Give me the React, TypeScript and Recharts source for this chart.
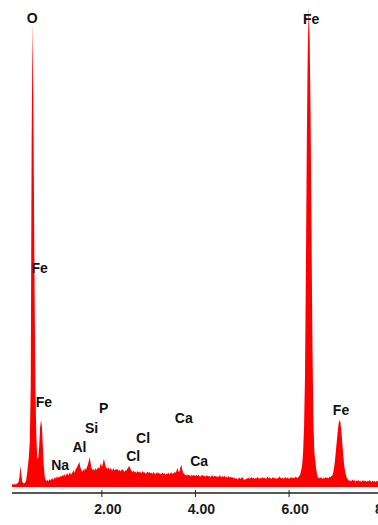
import React from 'react';
import { AreaChart, Area, XAxis, YAxis, ReferenceDot } from 'recharts';

// EDS spectrum: counts per 0.02 keV channel
const CHANNEL_WIDTH = 0.02;

// 0.08 keV .. 0.80 keV (C, O Kα, Fe L)
const startLow = 0.08;
const countsLow = [
  5, 6, 4, 7, 5, 6, 8, 10, 20, 42,
  24, 10, 8, 7, 9, 12, 26, 42, 60, 90,
  200, 700, 930, 720, 430, 200, 100, 56, 58, 80,
  118, 134, 120, 80, 40, 20, 14,
];

// 0.82 .. 1.36 keV (Na)
const startNa = 0.82;
const countsNa = [
  12, 14, 11, 16, 13, 15, 18, 14, 17, 20,
  16, 22, 18, 21, 19, 23, 20, 24, 22, 26,
  21, 25, 28, 23, 26, 30, 24, 28,
];

// 1.38 .. 2.08 keV (Al, Si, P)
const startAlSiP = 1.38;
const countsAlSiP = [
  30, 34, 28, 36, 38, 42, 46, 50, 40, 34,
  30, 36, 32, 38, 34, 40, 44, 52, 60, 48,
  38, 34, 36, 32, 38, 34, 36, 40, 36, 42,
  48, 40, 46, 56, 50, 40,
];

// 2.10 .. 2.78 keV (Cl)
const startCl = 2.1;
const countsCl = [
  38, 36, 40, 34, 38, 36, 32, 38, 35, 33,
  37, 34, 36, 32, 35, 31, 34, 36, 33, 30,
  34, 32, 36, 38, 42, 40, 34, 32, 30, 33,
  29, 31, 28, 32, 30,
];

// 2.80 .. 3.78 keV (Ca)
const startCa = 2.8;
const countsCa = [
  29, 31, 27, 30, 32, 28, 30, 26, 29, 31,
  28, 30, 27, 29, 26, 30, 28, 25, 29, 27,
  30, 26, 28, 25, 27, 29, 26, 28, 24, 27,
  26, 29, 25, 27, 30, 26, 28, 27, 31, 28,
  34, 38, 30, 32, 40, 44, 34, 28, 26, 24,
];

// 3.80 .. 5.02 keV
const startMid = 3.8;
const countsMid = [
  25, 22, 26, 23, 24, 21, 25, 22, 24, 23,
  22, 25, 21, 24, 23, 20, 24, 22, 25, 21,
  23, 20, 24, 22, 21, 23, 19, 22, 24, 20,
  22, 21, 23, 19, 22, 20, 24, 21, 19, 22,
  20, 23, 19, 21, 18, 22, 20, 19, 21, 18,
  20, 17, 19, 16, 18, 15, 17, 19, 16, 18, 20, 17,
];

// 5.04 .. 6.22 keV
const startHigh = 5.04;
const countsHigh = [
  14, 16, 15, 18, 17, 19, 16, 18, 20, 17,
  19, 16, 18, 17, 20, 18, 16, 19, 17, 18,
  20, 17, 19, 16, 18, 21, 17, 19, 18, 16,
  18, 20, 17, 19, 16, 18, 17, 19, 21, 18,
  17, 19, 16, 18, 20, 17, 19, 18, 16, 19,
  18, 20, 17, 19, 18, 21, 19, 18, 20, 22,
];

// 6.24 .. 6.62 keV (Fe Kα)
const startFeKa = 6.24;
const countsFeKa = [
  26, 34, 44, 70, 120, 220, 440, 700, 880, 960,
  890, 744, 500, 280, 130, 70, 52, 36, 24, 18,
];

// 6.64 .. 7.24 keV (Fe Kβ)
const startFeKb = 6.64;
const countsFeKb = [
  19, 17, 20, 18, 16, 19, 17, 20, 18, 19, 17, 21, 19, 22,
  22, 28, 38, 52, 72, 92, 112, 128, 134, 128, 108, 84, 60, 42, 30, 22, 17,
];

// 7.26 .. 8.40 keV
const startTail = 7.26;
const countsTail = [
  15, 12, 14, 11, 13, 15, 12, 14, 10, 13,
  12, 14, 11, 13, 10, 12, 14, 11, 13, 12,
  10, 13, 11, 14, 12, 10, 13, 11, 12, 10,
  12, 11, 13, 10, 12, 9, 11, 13, 10, 12,
  11, 9, 12, 10, 11, 13, 10, 12, 9, 11,
  10, 12, 9, 11, 10, 12, 9, 10,
];

// peak labels
const peakLabels = ['O', 'Fe', 'Fe', 'Fe', 'Na', 'Al', 'Si', 'P', 'Cl', 'Cl', 'Ca', 'Ca', 'Fe'];
const labelEnergies = [0.51, 6.47, 0.67, 0.76, 1.11, 1.52, 1.78, 2.04, 2.88, 2.67, 3.75, 4.08, 7.11];
const labelLevels = [928, 926, 428, 160, 34, 71, 108, 148, 88, 52, 128, 42, 144];

const xTicks = [2, 4, 6, 8];

const segments: [number, number[]][] = [
  [startLow, countsLow],
  [startNa, countsNa],
  [startAlSiP, countsAlSiP],
  [startCl, countsCl],
  [startCa, countsCa],
  [startMid, countsMid],
  [startHigh, countsHigh],
  [startFeKa, countsFeKa],
  [startFeKb, countsFeKb],
  [startTail, countsTail],
];

const data = segments.flatMap(([start, counts]) =>
  counts.map((c, i) => ({ e: Math.round((start + i * CHANNEL_WIDTH) * 100) / 100, c }))
);

const FONT = "'Liberation Sans', Arial, sans-serif";

const AxisTick = (props: any) => {
  const { x, y, payload } = props;
  return (
    <g>
      <line x1={x} x2={x} y1={y - 3} y2={y + 4} stroke="#222" strokeWidth={1} />
      <text
        x={x + 6}
        y={y + 21}
        textAnchor="middle"
        fontFamily={FONT}
        fontWeight="bold"
        fontSize={14}
        fill="#1a1a1a"
      >
        {Number(payload.value).toFixed(2)}
      </text>
    </g>
  );
};

export default function App() {
  return (
    <div
      style={{
        position: 'absolute',
        left: 0,
        top: 0,
        width: 378,
        height: 525,
        overflow: 'hidden',
        background: '#fff',
      }}
    >
      <AreaChart
        width={420}
        height={525}
        data={data}
        margin={{ top: 0, right: 18.6, bottom: 2, left: 12 }}
      >
        <XAxis
          dataKey="e"
          type="number"
          domain={[0.08, 8.4]}
          allowDataOverflow
          ticks={xTicks}
          tickSize={0}
          tickMargin={0}
          tickLine={false}
          axisLine={{ stroke: '#222', strokeWidth: 1.5 }}
          tick={<AxisTick />}
          height={30}
          interval={0}
        />
        <YAxis hide type="number" domain={[-12, 974]} allowDataOverflow />
        <Area
          type="linear"
          dataKey="c"
          baseValue={0}
          stroke="none"
          fill="#ff0000"
          fillOpacity={1}
          isAnimationActive={false}
          dot={false}
          activeDot={false}
        />
        {peakLabels.map((label, i) => (
          <ReferenceDot
            key={i}
            x={labelEnergies[i]}
            y={labelLevels[i]}
            r={0}
            shape={(p: any) => (
              <text
                x={p.cx}
                y={p.cy}
                textAnchor="middle"
                fontFamily={FONT}
                fontWeight="bold"
                fontSize={14}
                fill="#111"
              >
                {label}
              </text>
            )}
          />
        ))}
      </AreaChart>
    </div>
  );
}
